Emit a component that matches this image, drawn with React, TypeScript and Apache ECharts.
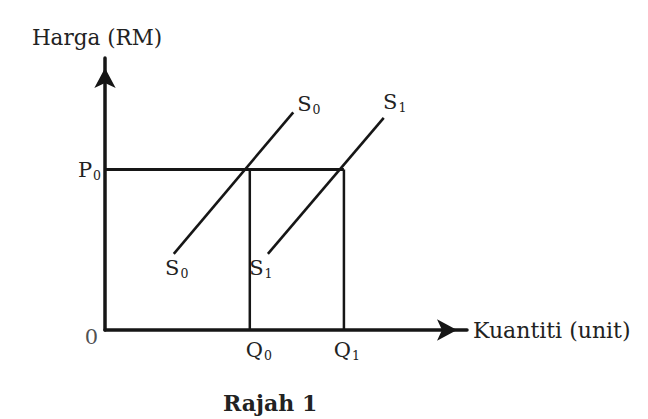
import React, { useEffect, useRef } from "react";
import * as echarts from "echarts";

// ---- data (axis units 0..100) ----
const Q0 = 40;
const Q1 = 66;
const P0 = 59;
const supplyS0: number[][] = [
  [19, 28],
  [52, 80],
];
const supplyS1: number[][] = [
  [45, 28],
  [77, 78],
];
const axisRange = [0, 100];
const priceTitle = "Harga (RM)";
const quantityTitle = "Kuantiti (unit)";
const figureTitle = "Rajah 1";
const originLabel = "0";

const INK = "#161616";
const TXT = "#222222";
const FONT = "DejaVu Serif";

const rich = {
  m: { fontSize: 21, fontFamily: FONT, color: TXT, lineHeight: 24, verticalAlign: "middle" },
  s: {
    fontSize: 12.5,
    fontFamily: FONT,
    color: TXT,
    lineHeight: 14,
    padding: [20, 0, 0, 1],
    verticalAlign: "bottom",
  },
};

const sub = (main: string, s: string) => `{m|${main}}{s|${s}}`;

export default function App() {
  const ref = useRef<HTMLDivElement>(null);
  useEffect(() => {
    if (!ref.current) return;
    const chart = echarts.init(ref.current, null, { renderer: "svg" });
    const lineStyle = (w: number) => ({ color: INK, width: w });
    const lineBase = {
      type: "line",
      symbol: "circle",
      symbolSize: 0,
      showSymbol: true,
      itemStyle: { color: INK },
    };
    const axisCommon = {
      type: "value",
      min: axisRange[0],
      max: axisRange[1],
      splitLine: { show: false },
      axisTick: { show: false },
      axisLabel: { show: false },
      axisLine: {
        show: true,
        onZero: false,
        symbol: ["none", "arrow"],
        symbolSize: [16, 20],
        symbolOffset: [0, -10],
        lineStyle: { color: INK, width: 3.5 },
      },
    };
    chart.setOption({
      animation: false,
      backgroundColor: "#ffffff",
      title: {
        text: figureTitle,
        left: 218,
        top: 387,
        textStyle: { fontFamily: FONT, fontWeight: "bold", fontSize: 22, color: TXT },
      },
      grid: { left: 105, right: 181, top: 58, bottom: 89 },
      xAxis: {
        ...axisCommon,
        name: quantityTitle,
        nameLocation: "end",
        nameGap: 6,
        nameTextStyle: {
          fontFamily: FONT,
          fontSize: 22,
          color: TXT,
          verticalAlign: "middle",
          padding: [0, 0, 14, 0],
        },
      },
      yAxis: {
        ...axisCommon,
        name: priceTitle,
        nameLocation: "end",
        nameGap: 10,
        nameTextStyle: {
          fontFamily: FONT,
          fontSize: 21.5,
          color: TXT,
          align: "center",
          padding: [0, 16, 0, 0],
        },
      },
      series: [
        {
          ...lineBase,
          name: "P0",
          lineStyle: lineStyle(3),
          data: [
            {
              value: [0, P0],
              label: { show: true, position: "left", distance: 4, formatter: sub("P", "0"), rich },
            },
            [Q1, P0],
          ],
        },
        {
          ...lineBase,
          name: "Q0",
          lineStyle: lineStyle(2.5),
          data: [
            {
              value: [Q0, 0],
              label: { show: true, position: "bottom", distance: 8, offset: [9, 0], formatter: sub("Q", "0"), rich },
            },
            [Q0, P0],
          ],
        },
        {
          ...lineBase,
          name: "Q1",
          lineStyle: lineStyle(2.5),
          data: [
            {
              value: [Q1, 0],
              label: { show: true, position: "bottom", distance: 8, offset: [3, 0], formatter: sub("Q", "1"), rich },
            },
            [Q1, P0],
          ],
        },
        {
          ...lineBase,
          name: "S0",
          lineStyle: lineStyle(2.6),
          data: [
            {
              value: supplyS0[0],
              label: { show: true, position: "bottom", distance: 2, offset: [3, 0], formatter: sub("S", "0"), rich },
            },
            {
              value: supplyS0[1],
              label: { show: true, position: "right", distance: 4, offset: [0, -8], formatter: sub("S", "0"), rich },
            },
          ],
        },
        {
          ...lineBase,
          name: "S1",
          lineStyle: lineStyle(2.6),
          data: [
            {
              value: supplyS1[0],
              label: { show: true, position: "bottom", distance: 2, offset: [-7, 0], formatter: sub("S", "1"), rich },
            },
            {
              value: supplyS1[1],
              label: { show: true, position: "top", distance: 4, offset: [11, 0], formatter: sub("S", "1"), rich },
            },
          ],
        },
        {
          type: "scatter",
          name: "origin",
          symbolSize: 0,
          data: [
            {
              value: [0, 0],
              label: {
                show: true,
                position: "left",
                distance: 7,
                offset: [0, 7],
                formatter: originLabel,
                fontFamily: FONT,
                fontSize: 21,
                color: TXT,
              },
            },
          ],
        },
      ],
    });
    return () => chart.dispose();
  }, []);
  return (
    <div
      ref={ref}
      style={{ position: "fixed", left: 0, top: 0, width: 648, height: 419 }}
    />
  );
}
